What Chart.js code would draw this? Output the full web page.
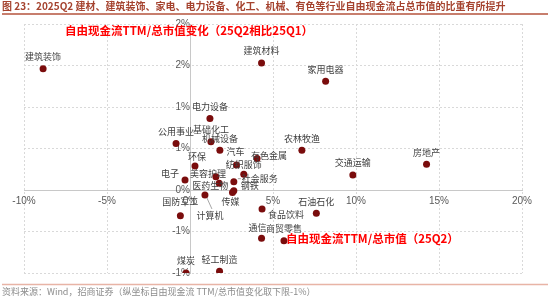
<!DOCTYPE html>
<html>
<head>
<meta charset="utf-8">
<script src="https://cdn.jsdelivr.net/npm/chart.js@4/dist/chart.umd.min.js"></script>
<style>
  body { margin: 0; background: #fff; }
  #chart { display: block; }
</style>
</head>
<body>
<canvas id="chart" width="550" height="300"></canvas>
<script>
// 行业名称
const industries = ['建筑装饰', '建筑材料', '家用电器', '电力设备', '公用事业', '基础化工', '机械设备',
    '汽车', '有色金属', '农林牧渔', '纺织服饰', '环保', '电子', '美容护理', '医药生物', '社会服务',
    '钢铁', '传媒', '计算机', '国防军工', '食品饮料', '石油石化', '通信', '商贸零售', '煤炭',
    '轻工制造', '交通运输', '房地产'];

// 自由现金流TTM/总市值（25Q2），%
const fcfRatio = [-8.85, 4.31, 8.17, 1.20, -0.84, 1.26, 1.80,
    2.80, 4.04, 6.74, 3.24, 0.30, -0.30, 1.56, 1.76, 2.64,
    2.64, 2.56, 0.90, -0.58, 4.34, 7.61, 4.31, 5.66, -0.24,
    1.78, 9.81, 14.25];

// 自由现金流TTM/总市值变化（25Q2相比25Q1），%
const fcfChange = [1.46, 1.53, 1.31, 0.86, 0.56, 0.58, 0.48,
    0.30, 0.38, 0.48, 0.19, 0.29, 0.12, 0.16, 0.08, 0.10,
    -0.01, -0.03, -0.06, -0.31, -0.23, -0.28, -0.58, -0.61, -1.00,
    -0.98, 0.18, 0.31];

// 坐标轴范围
const xRange = [-10, 20];
const yRange = [-1, 2];

// 数据标签偏移（默认在点上方）
const labelOffsets = {
    '汽车': [-1, -14], '有色金属': [12, -3], '纺织服饰': [0, -10], '环保': [2, -9],
    '电子': [-15, -6], '美容护理': [-8, -3], '医药生物': [-9, 2], '社会服务': [26, -3],
    '钢铁': [16, -5], '传媒': [-2, 9], '计算机': [5, 21], '国防军工': [0, -14],
    '食品饮料': [24, 5], '通信': [-4, -11]
};
const leaderLines = ['计算机', '社会服务'];

const points = industries.map((name, i) => ({ x: fcfRatio[i], y: fcfChange[i] }));

function pctRound(v) {
    const r = Math.sign(v) * Math.round(Math.abs(v) + 1e-9);
    return (r === 0 ? 0 : r) + '%';
}

// 数据标签、标题、注释
const textPlugin = {
    id: 'textPlugin',
    afterDatasetsDraw(chart) {
        const ctx = chart.ctx;
        const meta = chart.getDatasetMeta(0);
        ctx.save();
        ctx.font = '9px "Noto Sans CJK SC"';
        ctx.fillStyle = '#404040';
        ctx.textAlign = 'center';
        ctx.textBaseline = 'middle';
        meta.data.forEach((pt, i) => {
            const name = industries[i];
            const off = labelOffsets[name] || [0, -12];
            const lx = pt.x + off[0];
            const ly = pt.y + off[1];
            if (leaderLines.includes(name)) {
                ctx.strokeStyle = '#a6a6a6';
                ctx.lineWidth = 1;
                ctx.beginPath();
                if (name === '计算机') {
                    ctx.moveTo(pt.x + 2, pt.y + 3);
                    ctx.lineTo(lx + 2, ly - 7);
                } else {
                    ctx.moveTo(pt.x + 4, pt.y - 3);
                    ctx.lineTo(lx - 19, ly);
                }
                ctx.stroke();
            }
            ctx.fillText(name, lx, ly);
        });
        ctx.restore();
    },
    afterDraw(chart) {
        const ctx = chart.ctx;
        ctx.save();
        // 标题
        ctx.textBaseline = 'middle';
        ctx.textAlign = 'left';
        ctx.fillStyle = '#a5432f';
        ctx.font = 'bold 10px "Noto Sans CJK SC"';
        ctx.fillText('图 23：2025Q2 建材、建筑装饰、家电、电力设备、化工、机械、有色等行业自由现金流占总市值的比重有所提升', 2, 6);
        ctx.strokeStyle = '#b5533c';
        ctx.lineWidth = 1.5;
        ctx.beginPath();
        ctx.moveTo(2, 14);
        ctx.lineTo(548, 14);
        ctx.stroke();

        // 来源
        ctx.strokeStyle = '#e8b4a6';
        ctx.lineWidth = 1.5;
        ctx.beginPath();
        ctx.moveTo(2, 284.5);
        ctx.lineTo(548, 284.5);
        ctx.stroke();
        ctx.fillStyle = '#8c8c8c';
        ctx.font = '9px "Noto Sans CJK SC"';
        ctx.fillText('资料来源：Wind，招商证券（纵坐标自由现金流 TTM/总市值变化取下限-1%）', 2, 292);

        // 轴说明
        ctx.fillStyle = '#ff0000';
        ctx.font = 'bold 11.5px "Noto Sans CJK SC"';
        ctx.fillText('自由现金流TTM/总市值变化（25Q2相比25Q1）', 65, 31);
        ctx.fillText('自由现金流TTM/总市值（25Q2）', 286, 239);
        ctx.restore();
    }
};

const ctx = document.getElementById('chart').getContext('2d');
const chart = new Chart(ctx, {
    type: 'scatter',
    data: {
        datasets: [{
            data: points,
            backgroundColor: '#7a0c0c',
            borderColor: '#7a0c0c',
            borderWidth: 0,
            pointRadius: 3.5,
            pointHoverRadius: 3.5
        }]
    },
    options: {
        responsive: false,
        animation: false,
        layout: { padding: { left: 24, right: 28, top: 24, bottom: 27 } },
        plugins: {
            legend: { display: false },
            tooltip: { enabled: false }
        },
        scales: {
            x: {
                type: 'linear',
                min: xRange[0],
                max: xRange[1],
                position: { y: 0 },
                ticks: {
                    stepSize: 5,
                    padding: 5,
                    color: '#595959',
                    font: { family: '"Liberation Sans"', size: 10 },
                    callback: v => v + '%'
                },
                grid: { color: '#d9d9d9', drawTicks: false },
                border: { color: '#c8c8c8', width: 1, dash: [2, 2] }
            },
            y: {
                type: 'linear',
                min: yRange[0],
                max: yRange[1],
                position: { x: 0 },
                ticks: {
                    stepSize: 0.5,
                    padding: 6,
                    color: '#595959',
                    font: { family: '"Liberation Sans"', size: 10 },
                    callback: v => pctRound(v)
                },
                grid: { color: '#d9d9d9', drawTicks: false },
                border: { color: '#c8c8c8', width: 1, dash: [2, 2] }
            }
        }
    },
    plugins: [textPlugin]
});
</script>
</body>
</html>
